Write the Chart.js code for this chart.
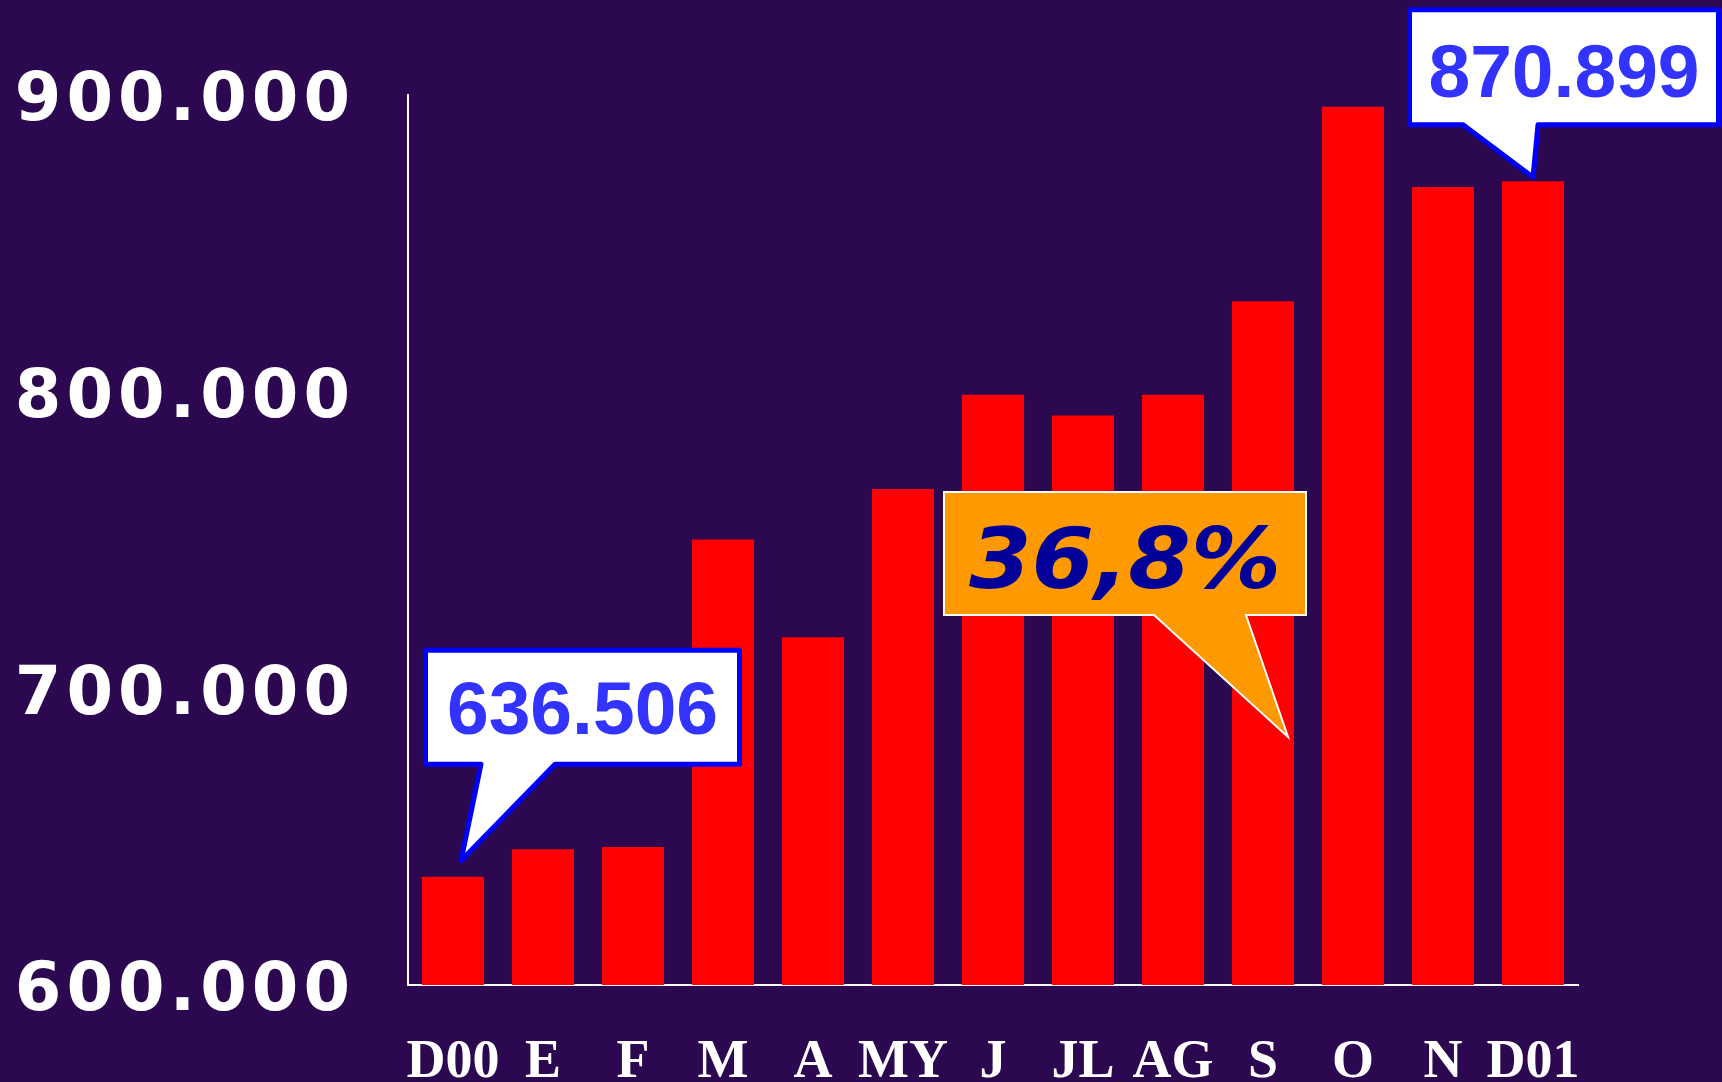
<!DOCTYPE html>
<html>
<head>
<meta charset="utf-8">
<script src="https://cdn.jsdelivr.net/npm/chart.js@4/dist/chart.umd.min.js"></script>
<style>
  html, body { margin: 0; padding: 0; background: #2b0850; }
  canvas { display: block; }
</style>
</head>
<body>
<canvas id="chart" width="1722" height="1082"></canvas>
<script>
// monthly totals, Dec 2000 .. Dec 2001
const months = ['D00', 'E', 'F', 'M', 'A', 'MY', 'J', 'JL', 'AG', 'S', 'O', 'N', 'D01'];
const totals = [636506, 645800, 646500, 750200, 717200, 767200, 799000, 792000, 799000, 830500, 896000, 869000, 870899];
const yTicks = [600000, 700000, 800000, 900000];

const BG = '#2b0850';

// 636506 -> "636.506"
const fmt = v => String(v).replace(/\B(?=(\d{3})+(?!\d))/g, '.');
const growth = ((totals[totals.length - 1] / totals[0] - 1) * 100).toFixed(1).replace('.', ',') + '%';

function callout(ctx, box, tail, o) {
  ctx.save();
  ctx.beginPath();
  ctx.moveTo(box.x, box.y);
  ctx.lineTo(box.x + box.w, box.y);
  ctx.lineTo(box.x + box.w, box.y + box.h);
  ctx.lineTo(tail.b, box.y + box.h);
  ctx.lineTo(tail.x, tail.y);
  ctx.lineTo(tail.a, box.y + box.h);
  ctx.lineTo(box.x, box.y + box.h);
  ctx.closePath();
  ctx.fillStyle = o.fill;
  ctx.fill();
  ctx.lineJoin = o.join || 'miter';
  ctx.lineWidth = o.lineWidth;
  ctx.strokeStyle = o.stroke;
  ctx.stroke();

  ctx.font = o.font;
  ctx.fillStyle = o.color;
  ctx.textAlign = 'center';
  ctx.textBaseline = 'alphabetic';
  const cx = box.x + box.w / 2 + (o.dx || 0);
  const by = box.y + o.baseline;
  ctx.translate(cx, by);
  if (o.textWidth) {
    const w = ctx.measureText(o.text).width;
    ctx.scale(o.textWidth / w, 1);
  }
  ctx.fillText(o.text, 0, 0);
  ctx.restore();
}

const bgPlugin = {
  id: 'bg',
  beforeDraw(chart) {
    const c = chart.ctx;
    c.save();
    c.fillStyle = BG;
    c.fillRect(0, 0, chart.width, chart.height);
    c.restore();
    // wider spacing for the y tick labels
    const ys = chart.scales.y;
    if (!ys._spaced) {
      const orig = ys.drawLabels;
      ys.drawLabels = function (area) {
        this.ctx.save();
        this.ctx.letterSpacing = '5px';
        orig.call(this, area);
        this.ctx.restore();
      };
      ys._spaced = true;
    }
  }
};

const calloutPlugin = {
  id: 'callouts',
  afterDraw(chart) {
    const c = chart.ctx;
    const x = chart.scales.x, y = chart.scales.y;
    const last = totals.length - 1;

    // first month
    let tx = x.getPixelForValue(0) + 8, ty = y.getPixelForValue(totals[0]) - 16;
    callout(c, { x: tx - 35.5, y: ty - 210.5, w: 314, h: 114 }, { a: tx + 20, b: tx + 94, x: tx, y: ty }, {
      fill: '#ffffff', stroke: '#0000ff', lineWidth: 5, join: 'round',
      text: fmt(totals[0]), font: 'bold 75px "Liberation Sans"', color: '#3333ff', baseline: 84
    });

    // last month
    tx = x.getPixelForValue(last); ty = y.getPixelForValue(totals[last]) - 4;
    callout(c, { x: tx - 123.5, y: ty - 167.5, w: 309, h: 115 }, { a: tx - 70, b: tx + 5, x: tx, y: ty }, {
      fill: '#ffffff', stroke: '#0000ff', lineWidth: 5, join: 'round',
      text: fmt(totals[last]), font: 'bold 75px "Liberation Sans"', color: '#3333ff', baseline: 87
    });

    // growth over the year
    tx = x.getPixelForValue(9) + 25; ty = chart.chartArea.bottom - 248;
    callout(c, { x: tx - 344, y: ty - 245, w: 362, h: 123 }, { a: tx - 134, b: tx - 42, x: tx, y: ty }, {
      fill: '#ff9900', stroke: '#ffffff', lineWidth: 2,
      text: growth, font: 'italic bold 84px "DejaVu Sans"', color: '#000099', baseline: 96, textWidth: 312
    });
  }
};

new Chart(document.getElementById('chart'), {
  type: 'bar',
  plugins: [bgPlugin, calloutPlugin],
  data: {
    labels: months,
    datasets: [{
      data: totals,
      backgroundColor: '#ff0000',
      borderWidth: 0,
      barPercentage: 0.69,
      categoryPercentage: 1
    }]
  },
  options: {
    responsive: false,
    animation: false,
    layout: { padding: { left: 0, top: 95, right: 144, bottom: 0 } },
    plugins: {
      legend: { display: false },
      tooltip: { enabled: false }
    },
    scales: {
      x: {
        grid: { display: false },
        border: { display: true, color: '#ffffff', width: 2 },
        ticks: {
          color: '#ffffff',
          font: { family: '"Liberation Serif"', weight: 'bold', size: 54 },
          padding: 38,
          maxRotation: 0,
          autoSkip: false
        },
        afterFit: s => { s.height = 97; }
      },
      y: {
        min: 600000,
        max: 900000,
        grid: { display: false },
        border: { display: true, color: '#ffffff', width: 2 },
        afterBuildTicks: s => { s.ticks = yTicks.map(v => ({ value: v })); },
        ticks: {
          color: '#ffffff',
          font: { family: '"DejaVu Sans"', weight: 'bold', size: 67 },
          padding: 45,
          labelOffset: 8,
          callback: v => fmt(v)
        },
        afterFit: s => { s.width = 408; }
      }
    }
  }
});
</script>
</body>
</html>
